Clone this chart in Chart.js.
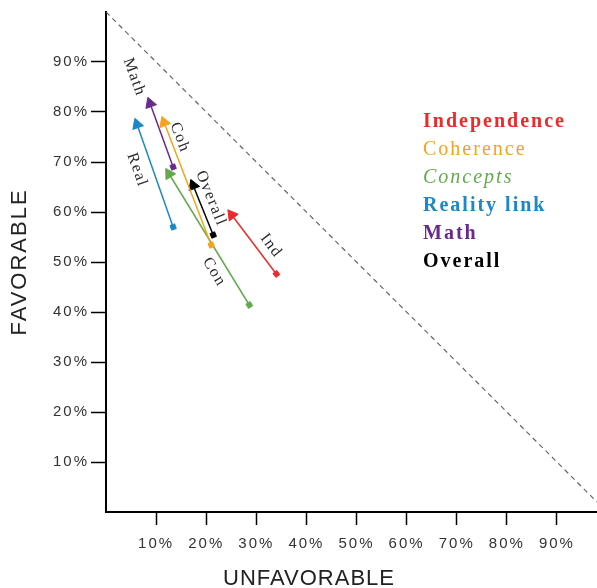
<!DOCTYPE html>
<html>
<head>
<meta charset="utf-8">
<script src="https://cdn.jsdelivr.net/npm/chart.js@4"></script>
<style>
  body { margin: 0; background: #fff; }
  #wrap { position: relative; width: 597px; height: 588px; }
  #legend { position: absolute; left: 423px; top: 106px; font-family: "Liberation Serif", "Times New Roman", serif; font-size: 20px; line-height: 28px; letter-spacing: 2px; }
  .legend-item { white-space: nowrap; }
  #xTitle { position: absolute; left: 209px; width: 200px; top: 567px; text-align: center; font-family: "Liberation Sans", Arial, sans-serif; font-size: 22px; line-height: 22px; letter-spacing: 1px; color: #222; }
</style>
</head>
<body>
<div id="wrap">
  <canvas id="myChart" width="597" height="588"></canvas>
  <div id="legend"></div>
  <div id="xTitle">UNFAVORABLE</div>
</div>
<script>
// Data per komponen: titik awal (ekor) dan titik akhir (kepala panah), dalam persen
const seriesNames = ["Independence", "Coherence", "Concepts", "Reality link", "Math", "Overall"];
const shortLabels = ["Ind", "Coh", "Con", "Real", "Math", "Overall"];
const startX = [34, 21, 28.6, 13.4, 13.4, 21.4];
const startY = [47.6, 53.4, 41.4, 57, 69, 55.4];
const endX = [25.1, 11.6, 12.6, 6.2, 8.8, 17.4];
const endY = [59.4, 77.9, 67.6, 77.5, 81.7, 65.3];

// Garis diagonal (favorable + unfavorable = 100%)
const diagonalX = [0, 98];
const diagonalY = [100, 2];

// Tick
const xTicks = [10, 20, 30, 40, 50, 60, 70, 80, 90];
const yTicks = [10, 20, 30, 40, 50, 60, 70, 80, 90];

// Gaya
const colors = ["#ec2a2c", "#f7a21d", "#62aa4c", "#1c88c8", "#6a2a8c", "#000000"];
const legendStyles = [
  { weight: "bold", style: "normal" },
  { weight: "normal", style: "normal" },
  { weight: "normal", style: "italic" },
  { weight: "bold", style: "normal" },
  { weight: "bold", style: "normal" },
  { weight: "bold", style: "normal" },
];
// posisi label pada panah: t = fraksi dari ujung ke ekor, off = geser tegak lurus (px)
const labelPlacement = [
  { t: 0.68, off: 12.8 },
  { t: 0.19, off: 9.3 },
  { t: 0.71, off: -12.8 },
  { t: 0.43, off: -15 },
  { t: -0.32, off: -6 },
  { t: 0.42, off: 11.5 },
];
const headRadius = 6.5;

function pixelDir(chart, i) {
  const xs = chart.scales.x, ys = chart.scales.y;
  const x0 = xs.getPixelForValue(startX[i]), y0 = ys.getPixelForValue(startY[i]);
  const x1 = xs.getPixelForValue(endX[i]), y1 = ys.getPixelForValue(endY[i]);
  return { x0, y0, x1, y1, dx: x1 - x0, dy: y1 - y0 };
}

const arrowDatasets = seriesNames.map((name, i) => ({
  label: name,
  data: [
    { x: startX[i], y: startY[i] },
    { x: endX[i], y: endY[i] },
  ],
  borderColor: colors[i],
  backgroundColor: colors[i],
  borderWidth: 1.5,
  pointStyle: (c) => (c.dataIndex === 0 ? "rect" : "triangle"),
  pointRadius: (c) => (c.dataIndex === 0 ? 3.5 : headRadius),
  pointBorderWidth: 1,
  pointBorderColor: colors[i],
  pointBackgroundColor: colors[i],
  pointRotation: (c) => {
    const d = pixelDir(c.chart, i);
    return (Math.atan2(d.dx, -d.dy) * 180) / Math.PI;
  },
}));

const diagonalDataset = {
  label: "diagonal",
  data: diagonalX.map((x, i) => ({ x: x, y: diagonalY[i] })),
  borderColor: "#666",
  borderWidth: 1.2,
  borderDash: [5, 4],
  pointRadius: 0,
};

// Label teks miring di samping panah
const arrowLabelPlugin = {
  id: "arrowLabels",
  afterDatasetsDraw(chart) {
    const c = chart.ctx;
    shortLabels.forEach((txt, i) => {
      const d = pixelDir(chart, i);
      const len = Math.hypot(d.dx, d.dy);
      const ux = -d.dx / len, uy = -d.dy / len; // arah ujung -> ekor
      const tipX = d.x1 - ux * headRadius, tipY = d.y1 - uy * headRadius;
      const tailX = d.x0, tailY = d.y0;
      const p = labelPlacement[i];
      const nx = uy, ny = -ux;
      const cx = tipX + p.t * (tailX - tipX) + p.off * nx;
      const cy = tipY + p.t * (tailY - tipY) + p.off * ny;
      c.save();
      c.translate(cx, cy);
      c.rotate(Math.atan2(uy, ux));
      c.font = "16px 'Liberation Serif', 'Times New Roman', serif";
      c.letterSpacing = "1.5px";
      c.fillStyle = "#2a2a2a";
      c.textAlign = "center";
      c.textBaseline = "middle";
      c.fillText(txt, 0, 0);
      c.restore();
    });
  },
};

const spacingPlugin = {
  id: "spacing",
  beforeDraw(chart) {
    chart.ctx.letterSpacing = "2px";
  },
};

const tickFont = { family: "'Liberation Sans', Arial, sans-serif", size: 15 };

var ctx = document.getElementById("myChart").getContext("2d");

var myChart = new Chart(ctx, {
  type: "line",
  data: { datasets: [diagonalDataset].concat(arrowDatasets) },
  options: {
    responsive: false,
    animation: false,
    layout: { autoPadding: false, padding: { top: 12, right: 0, bottom: 0, left: 0 } },
    plugins: {
      legend: { display: false },
      tooltip: { enabled: false },
    },
    scales: {
      x: {
        type: "linear",
        min: 0,
        max: 98,
        afterBuildTicks: (scale) => {
          scale.ticks = xTicks.map((v) => ({ value: v }));
        },
        afterFit: (scale) => {
          scale.height = 76;
        },
        ticks: {
          autoSkip: false,
          maxRotation: 0,
          padding: 10,
          color: "#333",
          font: tickFont,
          callback: (v) => v + "%",
        },
        grid: { drawOnChartArea: false, drawTicks: true, tickLength: 13, tickWidth: 1.5, color: "#000", tickColor: "#000" },
        border: { display: true, color: "#000", width: 2 },
      },
      y: {
        type: "linear",
        min: 0,
        max: 100,
        afterBuildTicks: (scale) => {
          scale.ticks = yTicks.map((v) => ({ value: v }));
        },
        afterFit: (scale) => {
          scale.width = 106;
        },
        ticks: {
          padding: 2,
          color: "#333",
          font: tickFont,
          callback: (v) => v + "%",
        },
        title: {
          display: true,
          text: "FAVORABLE",
          color: "#222",
          font: { family: "'Liberation Sans', Arial, sans-serif", size: 22 },
          padding: { top: 7, bottom: 0 },
        },
        grid: { drawOnChartArea: false, drawTicks: true, tickLength: 15, tickWidth: 1.5, color: "#000", tickColor: "#000" },
        border: { display: true, color: "#000", width: 2 },
      },
    },
  },
  plugins: [spacingPlugin, arrowLabelPlugin],
});

// Legenda teks berwarna
const legendContainer = document.getElementById("legend");
seriesNames.forEach((name, i) => {
  const legendItem = document.createElement("div");
  legendItem.className = "legend-item";
  legendItem.style.color = colors[i];
  legendItem.style.fontWeight = legendStyles[i].weight;
  legendItem.style.fontStyle = legendStyles[i].style;
  legendItem.textContent = name;
  legendContainer.appendChild(legendItem);
});
</script>
</body>
</html>
